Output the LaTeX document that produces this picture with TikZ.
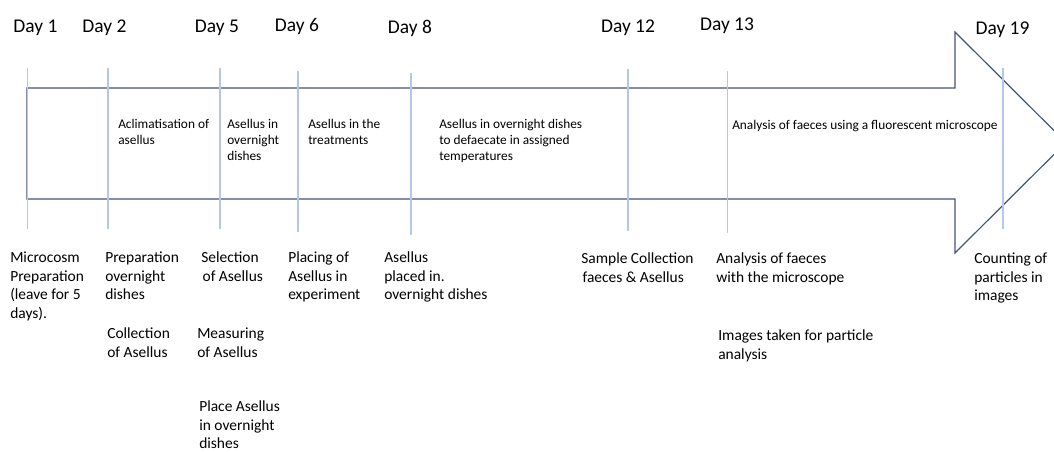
\documentclass[tikz,border=0pt]{standalone}
\usepackage{fontspec}
\setmainfont{Carlito}
\definecolor{arrowc}{RGB}{68,84,122}
\definecolor{linec}{RGB}{180,199,231}
\begin{document}
\begin{tikzpicture}[x=0.75pt,y=-0.75pt,
  arrowline/.style={draw=arrowc, line width=0.9pt, line join=miter},
  dayline/.style={draw=linec, line width=1.2pt},
  daylab/.style={anchor=base, inner sep=0pt, font=\fontsize{14.6}{17}\selectfont},
  intext/.style={anchor=base west, inner sep=0pt, align=left, font=\fontsize{10}{11.7}\selectfont},
  lowtext/.style={anchor=base west, inner sep=0pt, align=left, font=\fontsize{11.6}{13.8}\selectfont}]
\useasboundingbox (0,0) rectangle (1054,452);
% arrow
\begin{scope}
\clip (0,0) rectangle (1054,452);
\draw[arrowline] (27,88) -- (955,88) -- (955,32) -- (1066,142.5) -- (955,253) -- (955,199) -- (27,199) -- cycle;
\end{scope}
% day markers
\coordinate (t1) at (27.3,68);  \coordinate (b1) at (27.3,229);
\coordinate (t2) at (107.7,68); \coordinate (b2) at (107.7,229);
\coordinate (t5) at (220,68);   \coordinate (b5) at (220,229);
\coordinate (t6) at (298,71);   \coordinate (b6) at (298,232);
\coordinate (t8) at (410.7,73); \coordinate (b8) at (410.7,235);
\coordinate (t12) at (627.7,69); \coordinate (b12) at (627.7,231);
\coordinate (t13) at (727.3,71); \coordinate (b13) at (727.3,233);
\coordinate (t19) at (1003,68); \coordinate (b19) at (1003,229);
\foreach \d in {1,2,5,6,8,12,13,19} {\draw[dayline] (t\d) -- (b\d);}
% day labels
\node[daylab] (d1) at (35.5,33) {Day 1};
\node[daylab] (d2) at (104.5,33) {Day 2};
\node[daylab] (d5) at (217,33) {Day 5};
\node[daylab] (d6) at (297,32) {Day 6};
\node[daylab] (d8) at (410,34) {Day 8};
\node[daylab] (d12) at (628,33) {Day 12};
\node[daylab] (d13) at (727,31) {Day 13};
\node[daylab] (d19) at (1002.5,35) {Day 19};
% texts inside arrow (anchor = baseline of last line)
\node[intext] (i2) at (118,144.6) {Aclimatisation of\\asellus};
\node[intext] (i5) at (227,160.2) {Asellus in\\overnight\\dishes};
\node[intext] (i6) at (308,144.6) {Asellus in the\\treatments};
\node[intext] (i8) at (439,160.2) {Asellus in overnight dishes\\to defaecate in assigned\\temperatures};
\node[intext] (i13) at (732,130) {Analysis of faeces using a fluorescent microscope};
% texts below (anchor = baseline of last line)
\node[lowtext] (l1) at (10,318.2) {Microcosm\\Preparation\\(leave for 5\\days).};
\node[lowtext] (l2a) at (105,299.8) {Preparation\\overnight\\dishes};
\node[lowtext] (l2b) at (107,357.4) {Collection\\of Asellus};
\node[lowtext] (l5a) at (201,281.4) {Selection\\\hspace*{1pt}of Asellus};
\node[lowtext] (l5b) at (197,357.4) {Measuring\\of Asellus};
\node[lowtext] (l5c) at (199,448.5) {Place Asellus\\in overnight\\dishes};
\node[lowtext] (l6) at (288,299.8) {Placing of\\Asellus in\\experiment};
\node[lowtext] (l8) at (384,299.8) {Asellus\\placed in.\\overnight dishes};
\node[lowtext] (l12) at (581,282.4) {Sample Collection\\\hspace*{1pt}faeces \& Asellus};
\node[lowtext] (l13a) at (716,282.4) {Analysis of faeces\\with the microscope};
\node[lowtext] (l13b) at (718,359.4) {Images taken for particle\\analysis};
\node[lowtext] (l19) at (974,300.8) {Counting of\\particles in\\images};
\end{tikzpicture}
\end{document}
